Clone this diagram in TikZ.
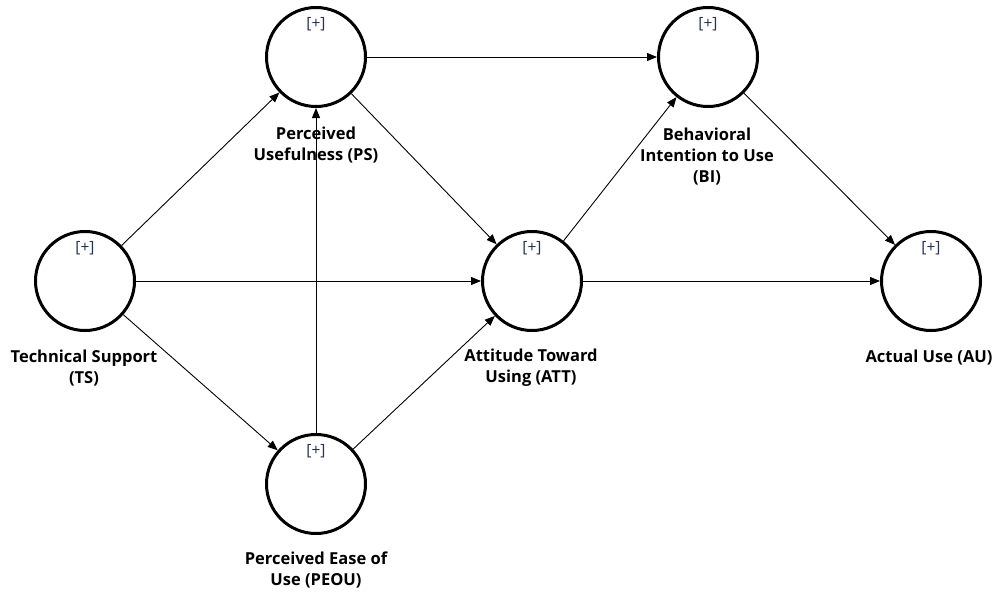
\documentclass[tikz,border=0pt]{standalone}
\usepackage{fontspec}
\setmainfont{Open Sans}
\usetikzlibrary{arrows.meta}
\definecolor{plus}{RGB}{40,50,80}
\tikzset{
  lv/.style={circle,draw=black,line width=3pt,minimum size=99pt,inner sep=0pt},
  lbl/.style={font=\bfseries\fontsize{16.5}{21}\selectfont,align=center,text=black,inner sep=0pt},
  pl/.style={font=\fontsize{15.5}{17}\selectfont,text=plus,inner sep=0pt},
  arr/.style={line width=0.9pt,-{Triangle[length=10pt,width=8pt]}}
}
\begin{document}
\begin{tikzpicture}[x=1pt,y=-1pt]
\useasboundingbox (0,0) rectangle (995,594);
\fill[white] (0,0) rectangle (995,594);
\node[lv] (TS) at (85,281) {};
\node[lv] (PS) at (316,57) {};
\node[lv] (PEOU) at (316,484) {};
\node[lv] (ATT) at (532,281) {};
\node[lv] (BI) at (708,57) {};
\node[lv] (AU) at (931,281) {};
\foreach \n/\x/\y in {TS/85/281,PS/316/57,PEOU/316/484,ATT/532/281,BI/708/57,AU/931/281}
  \node[pl] (p\n) at (\x,\y-33) {[+]};
\node[lbl] (lTS) at (84,368) {Technical Support\\(TS)};
\node[lbl] (lPS) at (316,145) {Perceived\\Usefulness (PS)};
\node[lbl] (lPEOU) at (316,570) {Perceived Ease of\\Use (PEOU)};
\node[lbl] (lATT) at (531,368) {Attitude Toward\\Using (ATT)};
\node[lbl] (lBI) at (707,157) {Behavioral\\Intention to Use\\(BI)};
\node[lbl] (lAU) at (929,358) {Actual Use (AU)};
\draw[arr] (TS) -- (PS);
\draw[arr] (TS) -- (ATT);
\draw[arr] (TS) -- (PEOU);
\draw[arr] (PEOU) -- (PS);
\draw[arr] (PEOU) -- (ATT);
\draw[arr] (PS) -- (BI);
\draw[arr] (PS) -- (ATT);
\draw[arr] (ATT) -- (BI);
\draw[arr] (ATT) -- (AU);
\draw[arr] (BI) -- (AU);
\end{tikzpicture}
\end{document}
